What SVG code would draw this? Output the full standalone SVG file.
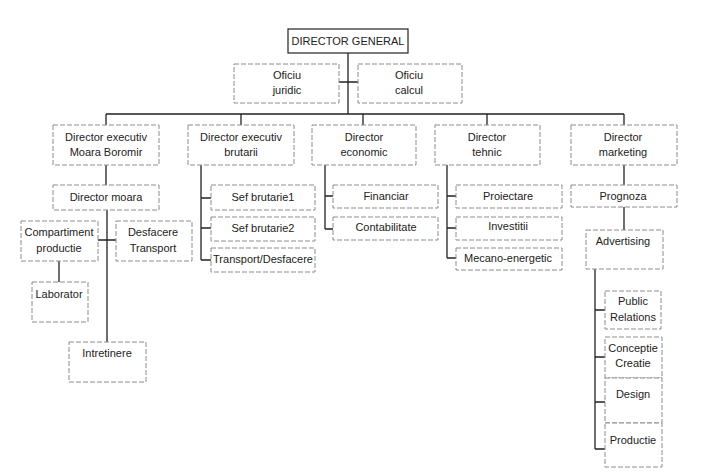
<svg xmlns="http://www.w3.org/2000/svg" width="728" height="475" viewBox="0 0 728 475">
<style>
.b{fill:#fff;stroke:#8c8c8c;stroke-width:1;stroke-dasharray:5 2}
.m{fill:#fff;stroke:#222;stroke-width:1.2}
.c{fill:none;stroke:#222;stroke-width:1.3}
text{font-family:"Liberation Sans",Arial,sans-serif;font-size:11px;fill:#222;text-anchor:middle}
</style>
<rect width="728" height="475" fill="#fff"/>
<g id="connectors" class="c">
<path d="M348,53V114M339,82H358M106,114H624M106,114V125M241,114V125M363,114V125M487,114V125M624,114V125"/>
<path d="M106,165V185M107,210V342M98,240H116M59,261V282"/>
<path d="M201,165V260M201,198H211M201,228H211M201,260H211"/>
<path d="M325,165V229M325,196H333M325,229H333"/>
<path d="M447,165V258M447,196H456M447,228H456M447,258H456"/>
<path d="M624,165V185M624,207V230M595,269V449M595,310H605M595,357H605M595,402H605M595,449H605"/>
</g>
<g id="director-general"><rect class="m" x="288" y="29" width="120" height="24"/><text x="348" y="45">DIRECTOR GENERAL</text></g>
<g id="oficiu-juridic"><rect class="b" x="234" y="64" width="105" height="39"/><text x="287" y="79">Oficiu</text><text x="287" y="94">juridic</text></g>
<g id="oficiu-calcul"><rect class="b" x="358" y="64" width="104" height="39"/><text x="409" y="79">Oficiu</text><text x="409" y="94">calcul</text></g>
<g id="de-moara"><rect class="b" x="53" y="125" width="106" height="40"/><text x="106" y="141">Director executiv</text><text x="106" y="156">Moara Boromir</text></g>
<g id="de-brutarii"><rect class="b" x="188" y="125" width="106" height="40"/><text x="241" y="141">Director executiv</text><text x="241" y="156">brutarii</text></g>
<g id="d-economic"><rect class="b" x="312" y="125" width="104" height="40"/><text x="364" y="141">Director</text><text x="364" y="156">economic</text></g>
<g id="d-tehnic"><rect class="b" x="435" y="125" width="105" height="40"/><text x="487" y="141">Director</text><text x="487" y="156">tehnic</text></g>
<g id="d-marketing"><rect class="b" x="571" y="125" width="106" height="40"/><text x="623" y="141">Director</text><text x="623" y="156">marketing</text></g>
<g id="director-moara"><rect class="b" x="53" y="185" width="106" height="25"/><text x="106" y="201">Director moara</text></g>
<g id="compartiment"><rect class="b" x="21" y="221" width="77" height="40"/><text x="59" y="236">Compartiment</text><text x="59" y="252">productie</text></g>
<g id="desfacere"><rect class="b" x="116" y="221" width="76" height="40"/><text x="153" y="236">Desfacere</text><text x="153" y="252">Transport</text></g>
<g id="laborator"><rect class="b" x="32" y="282" width="56" height="40"/><text x="59" y="298">Laborator</text></g>
<g id="intretinere"><rect class="b" x="69" y="342" width="77" height="40"/><text x="107" y="357">Intretinere</text></g>
<g id="sef1"><rect class="b" x="211" y="185" width="104" height="25"/><text x="263" y="201">Sef brutarie1</text></g>
<g id="sef2"><rect class="b" x="211" y="217" width="104" height="24"/><text x="263" y="232">Sef brutarie2</text></g>
<g id="transport-desfacere"><rect class="b" x="211" y="248" width="104" height="24"/><text x="263" y="263">Transport/Desfacere</text></g>
<g id="financiar"><rect class="b" x="333" y="185" width="105" height="23"/><text x="386" y="200">Financiar</text></g>
<g id="contabilitate"><rect class="b" x="333" y="217" width="105" height="23"/><text x="386" y="231">Contabilitate</text></g>
<g id="proiectare"><rect class="b" x="456" y="185" width="106" height="23"/><text x="508" y="200">Proiectare</text></g>
<g id="investitii"><rect class="b" x="456" y="217" width="106" height="23"/><text x="508" y="230">Investitii</text></g>
<g id="mecano"><rect class="b" x="456" y="248" width="106" height="22"/><text x="508" y="262">Mecano-energetic</text></g>
<g id="prognoza"><rect class="b" x="571" y="185" width="106" height="22"/><text x="623" y="200">Prognoza</text></g>
<g id="advertising"><rect class="b" x="586" y="230" width="77" height="39"/><text x="623" y="245">Advertising</text></g>
<g id="public-relations"><rect class="b" x="605" y="291" width="56" height="38"/><text x="633" y="305">Public</text><text x="633" y="321">Relations</text></g>
<g id="conceptie"><rect class="b" x="605" y="337" width="57" height="41"/><text x="633" y="352">Conceptie</text><text x="633" y="367">Creatie</text></g>
<g id="design"><rect class="b" x="605" y="378" width="57" height="45"/><text x="633" y="398">Design</text></g>
<g id="productie"><rect class="b" x="605" y="423" width="57" height="44"/><text x="633" y="444">Productie</text></g>
</svg>
